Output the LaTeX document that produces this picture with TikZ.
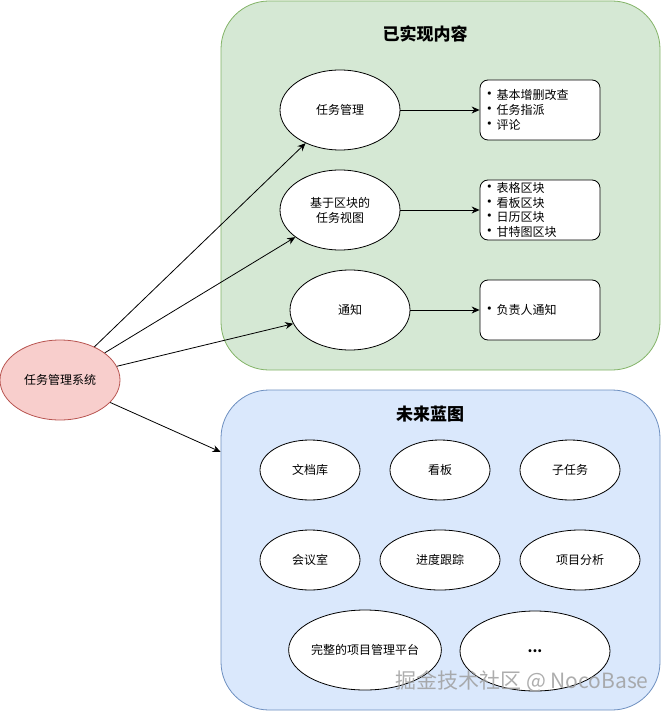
\documentclass[tikz,border=0pt]{standalone}
\usepackage{fontspec}
\usepackage{graphicx}
\setmainfont{Noto Sans CJK SC}
\usetikzlibrary{arrows.meta,shapes.geometric}
\definecolor{donefill}{HTML}{D5E8D4}
\definecolor{doneline}{HTML}{82B366}
\definecolor{planfill}{HTML}{DAE8FC}
\definecolor{planline}{HTML}{6C8EBF}
\definecolor{sysfill}{HTML}{F8CECC}
\definecolor{sysline}{HTML}{B85450}
\newcommand\listdot{\makebox[15pt][l]{\scalebox{1.3}{\textbullet}}}

\begin{document}
\begin{tikzpicture}[x=1pt, y=-1pt, font=\fontsize{12}{15}\selectfont,
  area/.style={draw, rounded corners=48pt, line width=0.8pt, inner sep=0pt},
  oval/.style={ellipse, draw, fill=white, inner sep=0pt, line width=0.8pt},
  listbox/.style={draw, fill=white, rounded corners=8pt, minimum width=120pt, minimum height=60pt, text width=117pt, inner sep=1.5pt, align=left, line width=0.8pt},
  heading/.style={font=\fontsize{17}{20}\selectfont\bfseries},
  link/.style={-{Stealth[length=8pt,width=7pt]}, line width=0.8pt}]
\useasboundingbox (0,0) rectangle (671,711);
% containers
\node[area, fill=donefill, draw=doneline, minimum width=439pt, minimum height=369pt] (done) at (440.5,185.5) {};
\node[area, fill=planfill, draw=planline, minimum width=439pt, minimum height=320pt] (plan) at (440.5,550) {};
\node[heading] (donetitle) at (425,34) {已实现内容};
\node[heading] (plantitle) at (430,414) {未来蓝图};

% done part
\node[oval, minimum width=120pt, minimum height=80pt] (task) at (340,110) {任务管理};
\node[oval, minimum width=120pt, minimum height=80pt, align=center] (view) at (340,210) {基于区块的\\任务视图};
\node[oval, minimum width=120pt, minimum height=80pt] (note) at (350,310) {通知};
\node[listbox] (tasklist) at (540,110) {\listdot 基本增删改查\\\listdot 任务指派\\\listdot 评论};
\node[listbox, font=\fontsize{12}{14.5}\selectfont] (viewlist) at (540,210) {\listdot 表格区块\\\listdot 看板区块\\\listdot 日历区块\\\listdot 甘特图区块};
\node[listbox] (notelist) at (540,310) {\listdot 负责人通知};
\draw[link] (task) -- (tasklist);
\draw[link] (view) -- (viewlist);
\draw[link] (note) -- (notelist);

% root
\node[oval, fill=sysfill, draw=sysline, minimum width=120pt, minimum height=80pt] (sys) at (60,380) {任务管理系统};
\draw[link] (sys) -- (task);
\draw[link] (sys) -- (view);
\draw[link] (sys) -- (note);
\draw[link] (sys) -- (plan);

% plan part
\node[oval, minimum width=100pt, minimum height=60pt] (docs) at (310,470) {文档库};
\node[oval, minimum width=100pt, minimum height=60pt] (board) at (440,470) {看板};
\node[oval, minimum width=100pt, minimum height=60pt] (subtask) at (570,470) {子任务};
\node[oval, minimum width=100pt, minimum height=60pt] (meeting) at (310,560) {会议室};
\node[oval, minimum width=120pt, minimum height=60pt] (progress) at (440,560) {进度跟踪};
\node[oval, minimum width=120pt, minimum height=60pt] (analysis) at (580,560) {项目分析};
\node[oval, minimum width=150pt, minimum height=80pt] (platform) at (365,650) {完整的项目管理平台};
\node[oval, minimum width=150pt, minimum height=80pt, font=\fontsize{14}{16}\selectfont\bfseries] (more) at (535,651) {...};

% watermark
\node[text=gray!75, opacity=0.85, font=\fontsize{21}{23}\selectfont] (mark) at (522,681) {掘金技术社区 @ NocoBase};
\end{tikzpicture}
\end{document}
